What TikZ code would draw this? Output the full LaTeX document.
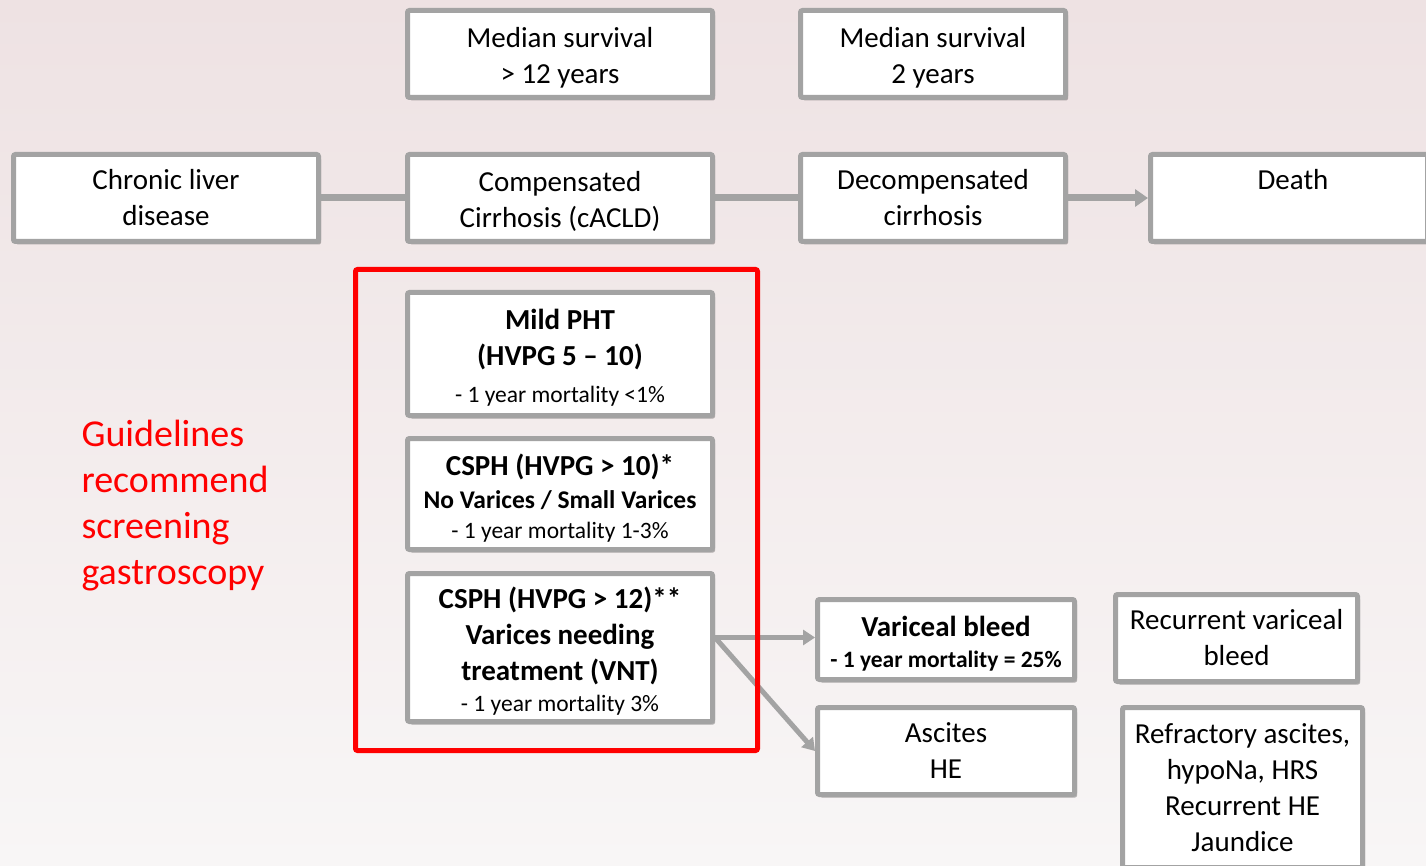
\documentclass[tikz,border=0pt]{standalone}
\usepackage{fontspec}
\setmainfont{Carlito}
\usetikzlibrary{arrows.meta,shadows}
\definecolor{boxgray}{HTML}{A3A3A3}
\definecolor{bgtop}{HTML}{EEE2E3}
\definecolor{bgbot}{HTML}{F8F6F6}
\definecolor{redc}{HTML}{FF0000}
\newcommand{\fbig}{\fontsize{29}{36}\selectfont}
\newcommand{\fsmall}{\fontsize{23.5}{30}\selectfont}
\newcommand{\fmid}{\fontsize{25.5}{32}\selectfont}
\newcommand{\topstrut}{\rule{0pt}{27pt}}
\begin{document}
\begin{tikzpicture}[x=1pt,y=-1pt,
  box/.style={draw=boxgray, line width=5pt, fill=white, rounded corners=2pt,
    inner sep=0pt, align=center, font=\fbig,
    drop shadow={shadow xshift=2.5pt, shadow yshift=-3pt, opacity=0.28, fill=black}},
  conn/.style={draw=boxgray, line width=7pt},
  arr/.style={draw=boxgray, line width=7pt, -{Triangle[length=13pt,width=17pt]}},
  arrs/.style={draw=boxgray, line width=5pt, -{Triangle[length=12pt,width=15pt]}}]
\useasboundingbox (0,0) rectangle (1426,866);
\shade[top color=bgtop, bottom color=bgbot] (0,0) rectangle (1426,866);

\node[box, minimum width=305pt, minimum height=87pt] (med1) at (560,54) {\topstrut Median survival\\ > 12 years};
\node[box, minimum width=265pt, minimum height=87pt] (med2) at (933,54) {\topstrut Median survival\\ 2 years};

\node[box, minimum width=305pt, minimum height=87pt] (cld) at (166,198) {Chronic liver\\ disease};
\node[box, minimum width=305pt, minimum height=87pt] (comp) at (560,198) {\topstrut Compensated\\ Cirrhosis (cACLD)};
\node[box, minimum width=265pt, minimum height=87pt] (decomp) at (933,198) {Decompensated\\ cirrhosis};
\node[box, minimum width=277pt, minimum height=87pt] (death) at (1289,198) {\hspace*{8pt}Death\\ \phantom{Death}};

\draw[conn] (cld.east) -- (comp.west);
\draw[conn] (comp.east) -- (decomp.west);
\draw[arr] (decomp.east) -- (death.west);

\node[box, minimum width=305pt, minimum height=123pt] (mild) at (560,354)
  {\topstrut\textbf{Mild PHT}\\ \textbf{(HVPG 5 – 10)}\\[1pt] {\fsmall - 1 year mortality <1\%}};
\node[box, minimum width=305pt, minimum height=111pt] (csph10) at (560,494)
  {\rule{0pt}{29pt}\textbf{CSPH (HVPG > 10)*}\\[-3pt] {\fmid\textbf{No Varices / Small Varices}}\\[-6pt] {\fsmall - 1 year mortality 1-3\%}};
\node[box, minimum width=305pt, minimum height=148pt] (csph12) at (560,647.5)
  {\rule{0pt}{29pt}\textbf{CSPH (HVPG > 12)**}\\ \textbf{Varices needing}\\ \textbf{treatment (VNT)}\\[-5pt] {\fsmall - 1 year mortality 3\%}};

\node[box, minimum width=257pt, minimum height=80pt] (vb) at (946,639.5)
  {\rule{0pt}{29pt}\textbf{Variceal bleed}\\[-5pt] {\fsmall\textbf{- 1 year mortality = 25\%}}};
\node[box, minimum width=257pt, minimum height=87pt] (asc) at (946,751) {Ascites\\ HE};
\node[box, minimum width=242pt, minimum height=87pt] (rvb) at (1236.5,638) {Recurrent variceal\\ bleed};
\node[box, minimum width=240pt, minimum height=160pt] (refr) at (1242.5,787.5)
  {Refractory ascites,\\ hypoNa, HRS\\ Recurrent HE\\ Jaundice};

\coordinate (split) at ([yshift=10pt]csph12.east);
\draw[arrs] (split) -- (vb.west |- split);
\draw[arrs] (split) -- (asc.west);

\draw[redc, line width=5pt, rounded corners=2pt] (355.5,269.5) rectangle (757.5,750.5);

\node[anchor=west, align=left, text=redc, font=\fontsize{38}{46}\selectfont] (guide) at (78,506)
  {Guidelines\\ recommend\\ screening\\ gastroscopy};
\end{tikzpicture}
\end{document}
